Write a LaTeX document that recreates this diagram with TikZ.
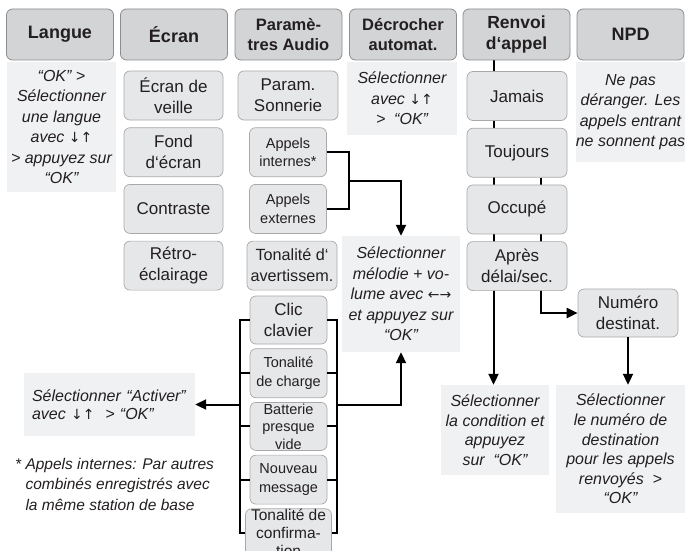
\documentclass[tikz,border=0pt]{standalone}
\usepackage{fontspec}
\setmainfont{Liberation Sans}
\newfontfamily\arrowfont{DejaVu Sans}
\usetikzlibrary{positioning,arrows.meta,backgrounds,calc}
\definecolor{headfill}{RGB}{211,212,214}
\definecolor{itemfill}{RGB}{230,231,233}
\definecolor{notefill}{RGB}{240,241,243}
\definecolor{edgegray}{RGB}{140,141,143}
\definecolor{inkgray}{RGB}{35,31,32}
\newcommand{\fsz}[2]{\fontsize{#1}{#2}\selectfont}
\newcommand{\arw}[1]{{\arrowfont\fontsize{14}{20}\selectfont #1}}

\begin{document}
\begin{tikzpicture}
[x=1pt,y=-1pt,
 every node/.style={text=inkgray, inner sep=0pt, align=center},
 head/.style={draw=edgegray, fill=headfill, rounded corners=6pt, line width=0.8pt,
   minimum width=107pt, minimum height=51pt, font=\bfseries\fsz{18}{21}},
 headtwo/.style={head, font=\bfseries\fsz{16.5}{20.5}},
 item/.style={draw=edgegray!75, fill=itemfill, rounded corners=6pt, line width=0.7pt,
   minimum width=100pt, minimum height=49pt, font=\fsz{17}{21}},
 smallitem/.style={item, minimum width=77pt, font=\fsz{14.5}{18.5}},
 note/.style={fill=notefill, font=\itshape\fsz{16}{20.5}},
 conn/.style={line width=2pt, draw=black},
 arr/.style={conn, -{Triangle[length=11pt,width=10pt]}}
]
\useasboundingbox (0,0) rectangle (685,551);

% menu headers
\node[head] (langue) at (60,34.5) {Langue};
\node[head] (ecran) at (174,34.5) {Écran};
\node[headtwo] (audio) at (288.5,34.5) {Paramè-\\tres Audio};
\node[headtwo] (decroch) at (403,34.5) {Décrocher\\automat.};
\node[headtwo, font=\bfseries\fsz{17.5}{21}] (renvoi) at (516.5,34.5) {Renvoi\\d‘appel};
\node[head] (npd) at (630.5,34.5) {NPD};

% Langue
\node[note, minimum width=109pt, minimum height=130pt] (languenote) at (61.5,127)
  {“OK” >\\Sélectionner\\une langue\\avec \arw{↓↑}\\> appuyez sur\\“OK”};

% Ecran
\node[item, minimum width=99pt] (veille) at (173.5,95.5) {Écran de\\veille};
\node[item, minimum width=99pt, below=7pt of veille] (fond) {Fond\\d‘écran};
\node[item, minimum width=99pt, below=7pt of fond] (contraste) {Contraste};
\node[item, minimum width=99pt, below=7pt of contraste] (retro) {Rétro-\\éclairage};

% Parametres audio
\node[item] (sonnerie) at (288,95.5) {Param.\\Sonnerie};
\node[smallitem, below=7pt of sonnerie] (internes) {Appels\\internes*};
\node[smallitem, below=7pt of internes] (externes) {Appels\\externes};
\node[item, minimum width=90pt, font=\fsz{16.2}{21}, below=7pt of externes, xshift=4pt] (avert) {Tonalité d‘\\avertissem.};
\node[item, minimum width=77pt, minimum height=48pt] (clic) at (288.5,320) {Clic\\clavier};
\node[smallitem, below=4pt of clic] (charge) {Tonalité\\de charge};
\node[smallitem, minimum height=48pt, font=\fsz{14.5}{17.5}, below=4pt of charge] (batterie) {Batterie\\presque\\vide};
\node[smallitem, below=4pt of batterie] (nouveau) {Nouveau\\message};
\node[smallitem, minimum width=86pt, font=\fsz{15.5}{18}, below=4pt of nouveau] (confirm) {Tonalité de\\confirma-\\tion};
\node[note, minimum width=118pt, minimum height=116pt] (melodie) at (401,294)
  {Sélectionner\\mélodie + vo-\\lume avec \arw{←→}\\et appuyez sur\\“OK”};
\node[note, minimum width=171pt, minimum height=63pt, align=left, text width=155pt,
  font=\itshape\fsz{16}{18}] (activer) at (109.5,404.5) {Sélectionner “Activer”\\avec \arw{↓↑}~ > “OK”};
\node[anchor=north west, align=left, font=\itshape\fsz{15.5}{20.5}] (footnote) at (15,458)
  {* Appels internes: Par autres\\\hphantom{* }combinés enregistrés avec\\\hphantom{* }la même station de base};

% Decrocher
\node[note, minimum width=110pt, minimum height=73pt] (decrochnote) at (402,98.5)
  {Sélectionner\\avec \arw{↓↑}\\>~ “OK”};

% Renvoi d'appel
\node[item] (jamais) at (517,96) {Jamais};
\node[item, below=7pt of jamais] (toujours) {Toujours};
\node[item, below=7pt of toujours] (occupe) {Occupé};
\node[item, below=7pt of occupe] (apres) {Après\\délai/sec.};
\node[item, minimum height=48pt] (numero) at (628,313) {Numéro\\destinat.};
\node[note, minimum width=108pt, minimum height=90pt, font=\itshape\fsz{16}{19.5}] (condnote) at (495,430)
  {Sélectionner\\la condition et\\appuyez\\sur~ “OK”};
\node[note, minimum width=129pt, minimum height=128pt, font=\itshape\fsz{16}{19.6}] (destnote) at (620.5,449)
  {Sélectionner\\le numéro de\\destination\\pour les appels\\renvoyés~ >\\“OK”};

% NPD
\node[note, minimum width=109pt, minimum height=100pt] (npdnote) at (630.5,112)
  {Ne pas\\déranger. Les\\appels entrant\\ne sonnent pas};

% connectors behind the boxes
\begin{scope}[on background layer]
\fill[white] (0,0) rectangle (685,551);
\draw[arr] ([xshift=-23pt]renvoi.south) -- ([xshift=-23pt]renvoi.south |- condnote.north);
\draw[arr] ([xshift=24pt]toujours.south) |- (numero.west);
\end{scope}
\draw[arr] (numero.south) -- (numero.south |- destnote.north);

\coordinate (appjoin) at ($(internes.east)!.5!(externes.east)+(22,0)$);
\draw[conn] (internes.east) -| (appjoin) |- (externes.east);
\draw[arr] (appjoin) -| (melodie.north);

\coordinate (gl) at ([xshift=-10pt]clic.west);
\coordinate (gr) at ([xshift=10pt]clic.east);
\draw[conn] (clic.west) -- (gl) |- (confirm.west);
\draw[conn] (clic.east) -- (gr) |- (confirm.east);
\foreach \b in {charge,batterie,nouveau}
{
  \draw[conn] (\b.west) -- (\b.west -| gl);
  \draw[conn] (\b.east) -- (\b.east -| gr);
}
\draw[arr] (gl |- activer.east) -- (activer.east);
\draw[arr] (gr |- activer.east) -| (melodie.south);
\end{tikzpicture}
\end{document}
